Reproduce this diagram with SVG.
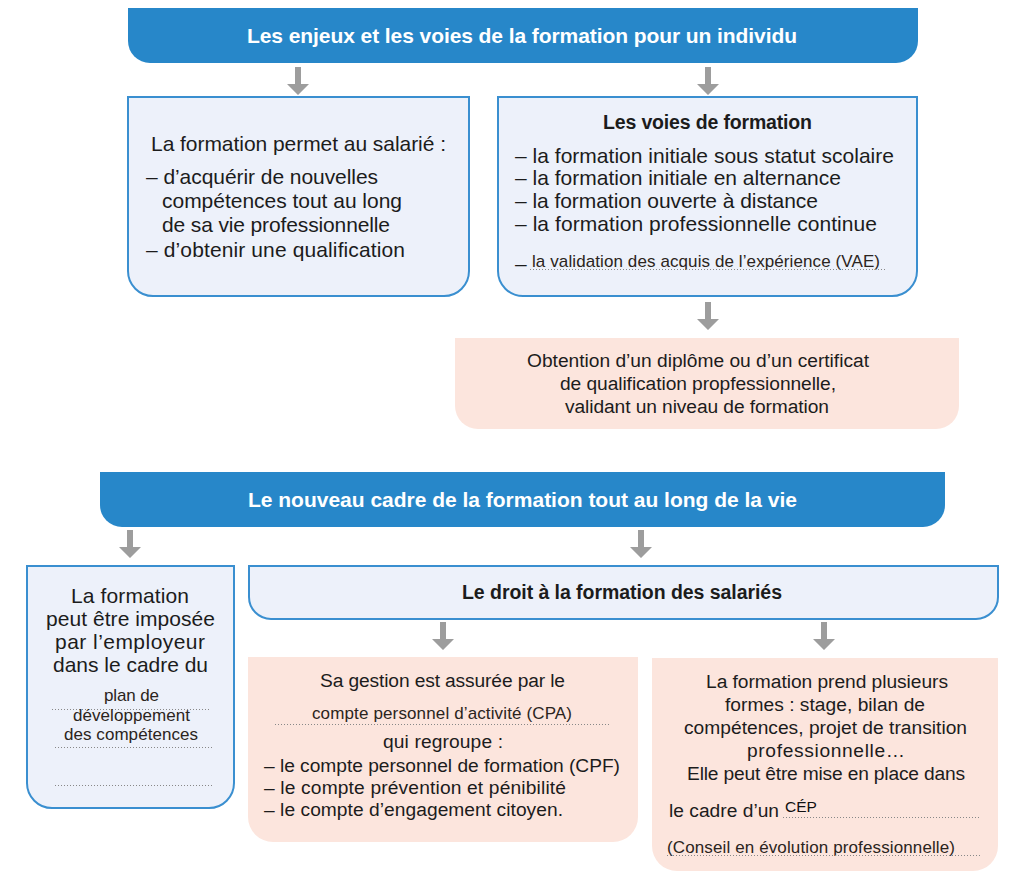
<svg xmlns="http://www.w3.org/2000/svg" width="1012" height="871" viewBox="0 0 1012 871">
<style>
text{font-family:"Liberation Sans",Arial,Helvetica,sans-serif}
.hdr{fill:#2787c9}
.box{fill:#edf1fa;stroke:#3a8fd0;stroke-width:2}
.pink{fill:#fce5dd}
.t{font-size:21px;fill:#1c1c1c}
.p{font-size:19.2px;fill:#1c1c1c}
.tb{font-size:19.5px;font-weight:bold;fill:#1c1c1c}
.th{font-size:21px;font-weight:bold;fill:#ffffff}
.s{font-size:17px;fill:#2b2420}
.c{text-anchor:middle}
.dot{stroke:#888;stroke-width:1;stroke-dasharray:1 2;fill:none}
.arr{fill:#9d9d9d}
</style>
<defs>
<path id="ar" d="M-3,0 H3 V17 H11 L0,28 L-11,17 H-3 Z"/>
</defs>

<g id="header1">
<path class="hdr" d="M128,8 H918 V41 A22,22 0 0 1 896,63 H150 A22,22 0 0 1 128,41 Z"/>
<text class="th c" x="522" y="43" textLength="550">Les enjeux et les voies de la formation pour un individu</text>
</g>

<g id="box-enjeux">
<path class="box" d="M128,97 H469 V271 A25,25 0 0 1 444,296 H153 A25,25 0 0 1 128,271 Z"/>
<text class="t" x="151" y="151" textLength="295">La formation permet au salarié :</text>
<text class="t" x="146" y="184" textLength="232">– d’acquérir de nouvelles</text>
<text class="t" x="162" y="208" textLength="240">compétences tout au long</text>
<text class="t" x="162" y="232" textLength="228">de sa vie professionnelle</text>
<text class="t" x="146" y="257" textLength="259">– d’obtenir une qualification</text>
</g>

<g id="box-voies">
<path class="box" d="M498,97 H917 V271 A25,25 0 0 1 892,296 H523 A25,25 0 0 1 498,271 Z"/>
<text class="tb c" x="707.5" y="129" textLength="209">Les voies de formation</text>
<text class="t" x="515" y="163" textLength="379">– la formation initiale sous statut scolaire</text>
<text class="t" x="515" y="185" textLength="326">– la formation initiale en alternance</text>
<text class="t" x="515" y="208" textLength="303">– la formation ouverte à distance</text>
<text class="t" x="515" y="231" textLength="362">– la formation professionnelle continue</text>
<text class="t" x="515" y="271">–</text>
<text class="s" x="532" y="267" textLength="348">la validation des acquis de l’expérience (VAE)</text>
<line class="dot" x1="530" y1="269.5" x2="887" y2="269.5"/>
</g>

<g id="box-diplome">
<path class="pink" d="M455,338 H959 V406 A23,23 0 0 1 936,429 H478 A23,23 0 0 1 455,406 Z"/>
<text class="p c" x="698" y="367" textLength="342">Obtention d’un diplôme ou d’un certificat</text>
<text class="p c" x="698" y="390" textLength="276">de qualification propfessionnelle,</text>
<text class="p c" x="697" y="413" textLength="264">validant un niveau de formation</text>
</g>

<g id="header2">
<path class="hdr" d="M100,472 H945 V505 A22,22 0 0 1 923,527 H122 A22,22 0 0 1 100,505 Z"/>
<text class="th c" x="522.5" y="507" textLength="549">Le nouveau cadre de la formation tout au long de la vie</text>
</g>

<g id="box-employeur">
<path class="box" d="M27,566 H234 V783 A25,25 0 0 1 209,808 H52 A25,25 0 0 1 27,783 Z"/>
<text class="t c" x="130" y="603" textLength="118">La formation</text>
<text class="t c" x="130.5" y="626" textLength="169">peut être imposée</text>
<text class="t c" x="130" y="649" textLength="150">par l’employeur</text>
<text class="t c" x="130.5" y="672" textLength="155">dans le cadre du</text>
<text class="s c" x="131.5" y="701" textLength="55">plan de</text>
<line class="dot" x1="52" y1="709.5" x2="209" y2="709.5"/>
<text class="s c" x="131.5" y="721" textLength="117">développement</text>
<text class="s c" x="131" y="740" textLength="134">des compétences</text>
<line class="dot" x1="55" y1="747.5" x2="212" y2="747.5"/>
<line class="dot" x1="55" y1="785.5" x2="212" y2="785.5"/>
</g>

<g id="box-droit">
<path class="box" d="M249,566 H998 V597 A22,22 0 0 1 976,619 H271 A22,22 0 0 1 249,597 Z"/>
<text class="tb c" x="622" y="599" textLength="320">Le droit à la formation des salariés</text>
</g>

<g id="box-cpa">
<path class="pink" d="M248,657 H638 V817 A25,25 0 0 1 613,842 H273 A25,25 0 0 1 248,817 Z"/>
<text class="p c" x="442.5" y="687" textLength="245">Sa gestion est assurée par le</text>
<text class="s c" x="442" y="719" textLength="260">compte personnel d’activité (CPA)</text>
<line class="dot" x1="275" y1="724.5" x2="611" y2="724.5"/>
<text class="p c" x="443" y="748" textLength="120">qui regroupe :</text>
<text class="p" x="264" y="772" textLength="356">– le compte personnel de formation (CPF)</text>
<text class="p" x="264" y="794" textLength="302">– le compte prévention et pénibilité</text>
<text class="p" x="264" y="816" textLength="299">– le compte d’engagement citoyen.</text>
</g>

<g id="box-formes">
<path class="pink" d="M652,658 H998 V846 A25,25 0 0 1 973,871 H677 A25,25 0 0 1 652,846 Z"/>
<text class="p c" x="827" y="688" textLength="242">La formation prend plusieurs</text>
<text class="p c" x="825" y="711" textLength="200">formes : stage, bilan de</text>
<text class="p c" x="825.5" y="734" textLength="283">compétences, projet de transition</text>
<text class="p c" x="826" y="757" textLength="158">professionnelle…</text>
<text class="p c" x="826" y="780" textLength="278">Elle peut être mise en place dans</text>
<text class="p" x="669" y="817" textLength="110">le cadre d’un</text>
<text class="s" x="785" y="812" style="font-size:15.5px;fill:#111">CÉP</text>
<line class="dot" x1="783" y1="817.5" x2="980" y2="817.5"/>
<text class="s" x="667" y="853" textLength="288">(Conseil en évolution professionnelle)</text>
<line class="dot" x1="667" y1="855.5" x2="980" y2="855.5"/>
</g>

<g id="connectors">
<use href="#ar" class="arr" x="298" y="67"/>
<use href="#ar" class="arr" x="708" y="67"/>
<use href="#ar" class="arr" x="708" y="302"/>
<use href="#ar" class="arr" x="130" y="530"/>
<use href="#ar" class="arr" x="641" y="530"/>
<use href="#ar" class="arr" x="443" y="622"/>
<use href="#ar" class="arr" x="824" y="622"/>
</g>
</svg>
